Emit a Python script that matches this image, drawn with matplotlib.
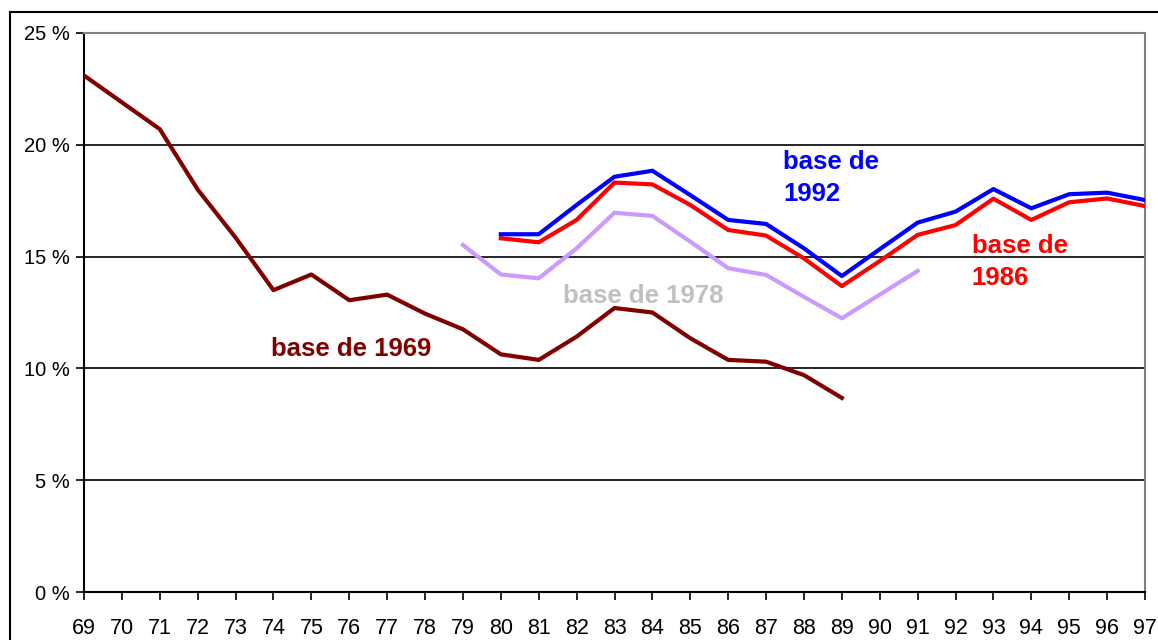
import matplotlib
matplotlib.use("Agg")
import matplotlib.pyplot as plt
from matplotlib.lines import Line2D

plt.rcParams['font.family'] = ['Liberation Sans', 'DejaVu Sans']

# years on the x axis (two-digit labels)
years = list(range(69, 98))
year_labels = [str(y) for y in years]

# base de 1969 : 69 -> 89
years_1969 = list(range(69, 90))
vals_1969 = [23.1, 21.9, 20.7, 18.0, 15.85, 13.5, 14.2, 13.05, 13.3, 12.45, 11.75,
             10.63, 10.38, 11.42, 12.7, 12.5, 11.35, 10.38, 10.3, 9.7, 8.68]

# base de 1978 : 79 -> 91
years_1978 = list(range(79, 92))
vals_1978 = [15.52, 14.2, 14.03, 15.37, 16.96, 16.82, 15.67, 14.48, 14.18, 13.2,
             12.24, 13.3, 14.36]

# base de 1986 : 80 -> 97
years_1986 = list(range(80, 98))
vals_1986 = [15.82, 15.64, 16.64, 18.31, 18.23, 17.31, 16.19, 15.94, 14.92, 13.68,
             14.8, 15.97, 16.41, 17.59, 16.64, 17.43, 17.6, 17.26]

# base de 1992 : 80 -> 97
years_1992 = list(range(80, 98))
vals_1992 = [16.0, 16.0, 17.31, 18.57, 18.84, 17.75, 16.64, 16.46, 15.37, 14.13,
             15.33, 16.52, 17.01, 18.02, 17.16, 17.79, 17.86, 17.53]

y_ticks = [0, 5, 10, 15, 20, 25]
y_labels = ["0 %", "5 %", "10 %", "15 %", "20 %", "25 %"]

fig = plt.figure(figsize=(11.58, 6.40), dpi=100)
ax = fig.add_axes([84 / 1158, 1 - 592 / 640, (1145 - 84) / 1158, (592 - 33) / 640])

# outer frame (only top and left edges are inside the picture)
fig.add_artist(Line2D([10 / 1158, 10 / 1158], [0, 1 - 12 / 640], color='black', lw=1.5,
                      transform=fig.transFigure))
fig.add_artist(Line2D([10 / 1158, 1], [1 - 12 / 640, 1 - 12 / 640], color='black', lw=1.5,
                      transform=fig.transFigure))

# gridlines
for g in [5, 10, 15, 20]:
    ax.axhline(g, color='black', lw=1.2, zorder=1)

ax.plot(years_1969, vals_1969, color='#800000', lw=3, zorder=3)
ax.plot(years_1978, vals_1978, color='#CC99FF', lw=3, zorder=3)
ax.plot(years_1986, vals_1986, color='#FF0000', lw=3, zorder=4)
ax.plot(years_1992, vals_1992, color='#0000FF', lw=3, zorder=4)

ax.set_xlim(69, 97)
ax.set_ylim(0, 25)

ax.set_xticks(years)
ax.set_xticklabels(year_labels, fontsize=15.5)
ax.set_yticks(y_ticks)
ax.set_yticklabels(y_labels, fontsize=14.5)
ax.tick_params(axis='x', direction='out', length=6, width=1.2, pad=13)
ax.tick_params(axis='y', direction='out', length=6, width=1.2, pad=4)

ax.spines['left'].set_color('black')
ax.spines['bottom'].set_color('black')
ax.spines['left'].set_linewidth(1.5)
ax.spines['bottom'].set_linewidth(1.5)
ax.spines['top'].set_color('#808080')
ax.spines['right'].set_color('#808080')
ax.spines['top'].set_linewidth(1.5)
ax.spines['right'].set_linewidth(1.5)

# series labels
lab = dict(fontsize=18.5, fontweight='bold', va='baseline', ha='left')
ax.text(73.93, 10.55, "base de 1969", color='#800000', **lab)
ax.text(81.64, 12.92, "base de 1978", color='#C0C0C0', **lab)
ax.text(87.45, 18.92, "base de", color='#0000FF', **lab)
ax.text(87.45, 17.5, "1992", color='#0000FF', **lab)
ax.text(92.43, 15.16, "base de", color='#FF0000', **lab)
ax.text(92.43, 13.73, "1986", color='#FF0000', **lab)

fig.savefig("out.png", dpi=100)
